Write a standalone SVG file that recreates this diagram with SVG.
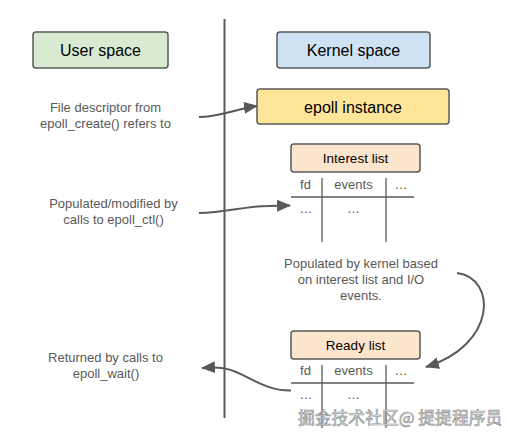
<svg xmlns="http://www.w3.org/2000/svg" width="507" height="437" viewBox="0 0 507 437">
<style>
text{font-family:"Liberation Sans",Arial,sans-serif}
.box{stroke:#595959;stroke-width:1.5}
.title{font-size:16px;fill:#000;text-anchor:middle}
.sub{font-size:13.5px;fill:#000;text-anchor:middle}
.note{font-size:13px;fill:#595959;text-anchor:middle}
.cell{font-size:13px;fill:#595959;text-anchor:middle}
.grid{stroke:#595959;stroke-width:1.3}
.conn{fill:none;stroke:#595959;stroke-width:2}
.wm{font-family:"Noto Sans CJK SC",sans-serif;font-size:16.8px;fill:#e6e6e6;stroke:#8c8c8c;stroke-width:0.6}
</style>
<defs>
<marker id="ah" markerUnits="userSpaceOnUse" markerWidth="14" markerHeight="12" viewBox="0 0 14 12" refX="13" refY="6" orient="auto">
<path d="M0,0 L14,6 L0,12 Z" fill="#595959"/>
</marker>
</defs>
<rect width="507" height="437" fill="#fff"/>
<line x1="224.5" y1="19" x2="224.5" y2="418" stroke="#595959" stroke-width="2"/>
<g id="user-space">
<rect class="box" x="33" y="32" width="135" height="36" rx="3" fill="#d9ead3"/>
<text class="title" x="100.5" y="56">User space</text>
</g>
<g id="kernel-space">
<rect class="box" x="277" y="32" width="153" height="36" rx="3" fill="#cfe2f3"/>
<text class="title" x="353.5" y="56">Kernel space</text>
</g>
<g id="epoll-instance">
<rect class="box" x="257" y="89" width="192" height="35" rx="3" fill="#ffe599"/>
<text class="title" x="353" y="112.5">epoll instance</text>
</g>
<g id="note-create">
<text class="note" x="105.5" y="111.5">File descriptor from</text>
<text class="note" x="105.5" y="127.5">epoll_create() refers to</text>
</g>
<g id="interest-list">
<rect class="box" x="291" y="144" width="129" height="28" rx="3" fill="#fce5cd"/>
<text class="sub" x="355.5" y="163">Interest list</text>
<line class="grid" x1="291" y1="197" x2="414" y2="197"/>
<line class="grid" x1="322" y1="178" x2="322" y2="242"/>
<line class="grid" x1="386" y1="178" x2="386" y2="242"/>
<text class="cell" x="305.5" y="189">fd</text>
<text class="cell" x="353.5" y="189">events</text>
<text class="cell" x="401" y="189">…</text>
<text class="cell" x="306" y="213">…</text>
<text class="cell" x="353.5" y="213">…</text>
</g>
<g id="note-ctl">
<text class="note" x="113.5" y="208">Populated/modified by</text>
<text class="note" x="113.5" y="224">calls to epoll_ctl()</text>
</g>
<g id="note-kernel">
<text class="note" x="361" y="267.5">Populated by kernel based</text>
<text class="note" x="361" y="283.5">on interest list and I/O</text>
<text class="note" x="361" y="299.5">events.</text>
</g>
<g id="ready-list">
<rect class="box" x="291" y="331" width="129" height="28" rx="3" fill="#fce5cd"/>
<text class="sub" x="355.5" y="350">Ready list</text>
<line class="grid" x1="291" y1="383" x2="414" y2="383"/>
<line class="grid" x1="322" y1="365" x2="322" y2="428"/>
<line class="grid" x1="386" y1="365" x2="386" y2="428"/>
<text class="cell" x="305.5" y="375">fd</text>
<text class="cell" x="353.5" y="375">events</text>
<text class="cell" x="401" y="375">…</text>
<text class="cell" x="306" y="399">…</text>
<text class="cell" x="353.5" y="399">…</text>
</g>
<g id="note-wait">
<text class="note" x="105.5" y="362">Returned by calls to</text>
<text class="note" x="106" y="377.5">epoll_wait()</text>
</g>
<g id="connectors">
<path class="conn" marker-end="url(#ah)" d="M199,117 C215,117 225,113 238,110 C245,108.5 250,107 257,106"/>
<path class="conn" marker-end="url(#ah)" d="M199,213 C225,213 245,206 268,206 L290,205.5"/>
<path class="conn" marker-end="url(#ah)" d="M457,273 C497,278 497,345 426,367"/>
<path class="conn" marker-end="url(#ah)" d="M291,390.5 C262,391 245,372 225,368.5 C215,367 210,367.5 202,368"/>
</g>
<text class="wm" x="298" y="424">掘金技术社区@ 提提程序员</text>
</svg>
